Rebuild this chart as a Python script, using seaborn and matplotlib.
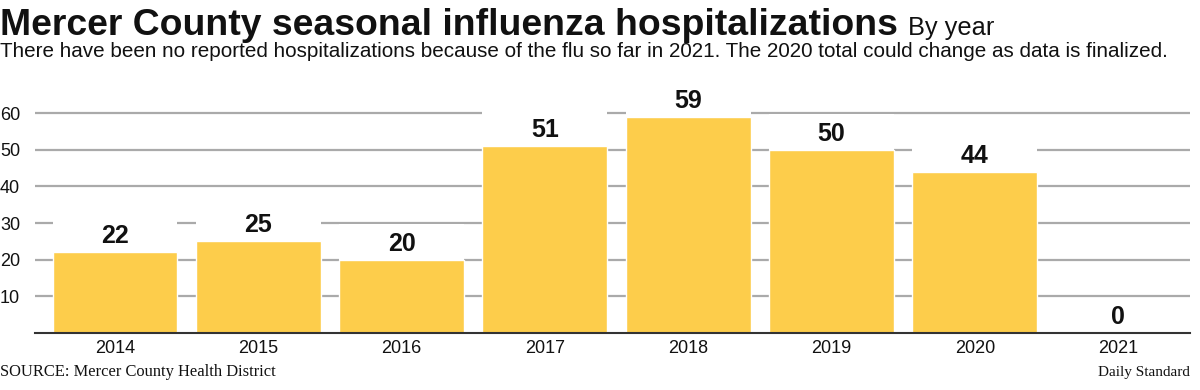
import matplotlib
matplotlib.use("Agg")
import matplotlib.pyplot as plt
import seaborn as sns
import pandas as pd
from matplotlib import font_manager

years = ["2014", "2015", "2016", "2017", "2018", "2019", "2020", "2021"]
hospitalizations = [22, 25, 20, 51, 59, 50, 44, 0]
ytick_values = [10, 20, 30, 40, 50, 60]

title = "Mercer County seasonal influenza hospitalizations"
title_suffix = "By year"
subtitle = ("There have been no reported hospitalizations because of the flu so far in 2021. "
            "The 2020 total could change as data is finalized.")
source = "SOURCE: Mercer County Health District"
credit = "Daily Standard"

sns.set_theme(style="white")
available = {f.name for f in font_manager.fontManager.ttflist}
SANS = "Liberation Sans" if "Liberation Sans" in available else "DejaVu Sans"
NARROW = "Liberation Sans Narrow" if "Liberation Sans Narrow" in available else SANS
SERIF = "Liberation Serif" if "Liberation Serif" in available else "DejaVu Serif"
plt.rcParams["font.family"] = [SANS, "DejaVu Sans"]

BAR = "#FDCD4B"
GRID = "#AAAAAA"

W, H = 1200, 390
fig = plt.figure(figsize=(W / 100, H / 100), dpi=100)
unit = 220 / 60.0
ytop = 68
ax_left, ax_right = 35, 1190
ax_bottom_px = 333
ax = fig.add_axes([ax_left / W, (H - ax_bottom_px) / H, (ax_right - ax_left) / W,
                   ytop * unit / H])

df = pd.DataFrame({"year": years, "value": hospitalizations})
bw = 0.872
sns.barplot(data=df, x="year", y="value", color=BAR, saturation=1, width=bw, ax=ax, zorder=2)
# white label panels above each bar hide gridlines behind the value labels
ax.bar(range(len(years)), [9.6] * len(years), bottom=hospitalizations, width=bw,
       color="white", zorder=1.5, linewidth=0)

ax.set_xlim((ax_left - 115) / 143.3, (ax_right - 115) / 143.3)
ax.set_ylim(0, ytop)
ax.set_yticks(ytick_values)
ax.set_yticklabels([str(v) for v in ytick_values], ha="left", fontsize=13, color="#111111")
ax.tick_params(axis="y", length=0, pad=25.2)
ax.tick_params(axis="x", length=0, pad=5, labelsize=13, labelcolor="#111111")
ax.set_xlabel("")
ax.set_ylabel("")
ax.set_axisbelow(True)
ax.yaxis.grid(True, color=GRID, linewidth=1.6)
ax.xaxis.grid(False)
for s in ["top", "right", "left"]:
    ax.spines[s].set_visible(False)
ax.spines["bottom"].set_color("#333333")
ax.spines["bottom"].set_linewidth(1.5)
ax.spines["bottom"].set_zorder(3)

for i, v in enumerate(hospitalizations):
    ax.annotate(str(v), (i, v), xytext=(0, 6.6), textcoords="offset points",
                ha="center", va="baseline", fontsize=18, fontweight="bold",
                color="#111111", clip_on=False, zorder=4)

renderer = fig.canvas.get_renderer()


def fit(txt, target_px):
    bb = txt.get_window_extent(renderer)
    txt.set_fontsize(txt.get_fontsize() * target_px / bb.width)
    return txt.get_window_extent(renderer)


t = fig.text(0, 1 - 35 / H, title, fontsize=32, fontweight="bold", family=[NARROW, SANS],
             ha="left", va="baseline", color="#111111")
bb = fit(t, 900)
t2 = fig.text((bb.x1 + 10) / W, 1 - 35 / H, title_suffix, fontsize=20, family=[NARROW, SANS],
              ha="left", va="baseline", color="#111111")
fit(t2, 86)
st = fig.text(0, 1 - 57 / H, subtitle, fontsize=15, family=[NARROW, SANS],
              ha="left", va="baseline", color="#111111")
fit(st, 1170)
s1 = fig.text(0, 1 - 376 / H, source, fontsize=10.5, family=[SERIF], ha="left",
              va="baseline", color="#111111")
fit(s1, 275)
s2 = fig.text(1190 / W, 1 - 376 / H, credit, fontsize=10.5, family=[SERIF], ha="right",
              va="baseline", color="#111111")
fit(s2, 92)

fig.savefig("out.png", dpi=100, facecolor="white")
